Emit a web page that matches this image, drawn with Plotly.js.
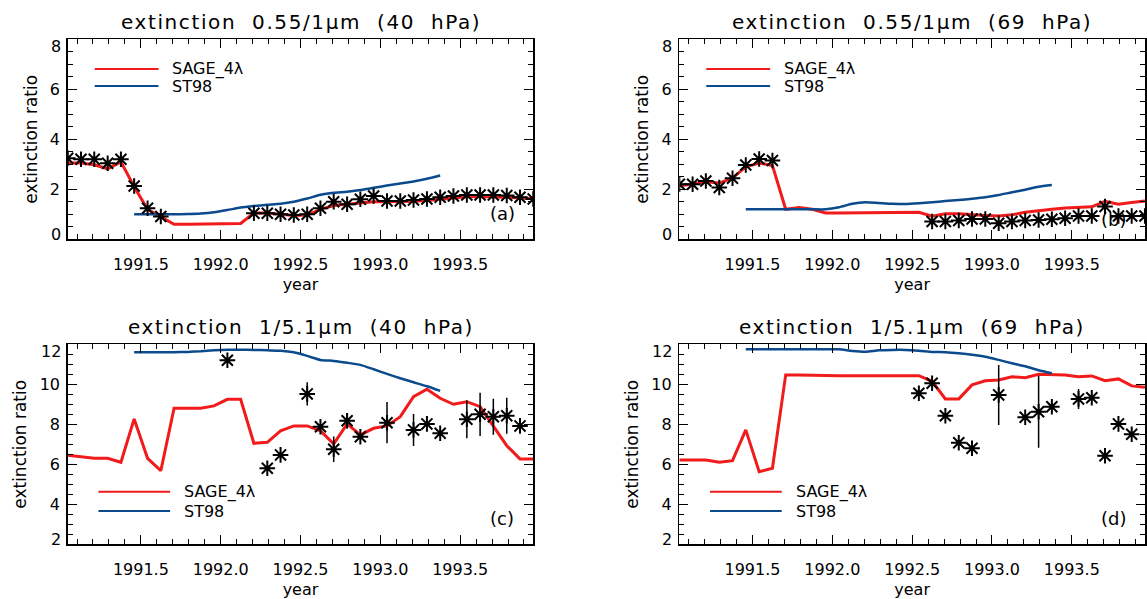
<!DOCTYPE html>
<html>
<head>
<meta charset="utf-8">
<script src="https://cdn.plot.ly/plotly-3.0.1.min.js"></script>
<style>
html,body{margin:0;padding:0;background:#fff;}
#chart{width:1147px;height:599px;}
</style>
</head>
<body>
<div id="chart"></div>
<script>
// ---- data (monthly, mid-month decimal years) ----
var years = [1991.042,1991.125,1991.208,1991.292,1991.375,1991.458,1991.542,1991.625,1991.708,1991.792,1991.875,1991.958,
             1992.042,1992.125,1992.208,1992.292,1992.375,1992.458,1992.542,1992.625,1992.708,1992.792,1992.875,1992.958,
             1993.042,1993.125,1993.208,1993.292,1993.375,1993.458,1993.542,1993.625,1993.708,1993.792,1993.875,1993.958];

// (a) 0.55/1um at 40 hPa
var sageA = [3.05,3.05,2.98,2.82,3.1,2.1,1.2,0.9,0.6,0.6,0.6,0.6,0.62,0.63,1.05,1.05,1.0,0.95,0.97,1.2,1.35,1.4,1.45,1.5,1.5,1.5,1.52,1.55,1.6,1.65,1.7,1.7,1.7,1.68,1.65,1.62];
var st98A  = [null,null,null,null,null,1.0,1.0,1.0,1.0,1.01,1.03,1.08,1.17,1.27,1.33,1.38,1.42,1.5,1.63,1.78,1.86,1.9,1.97,2.06,2.15,2.23,2.31,2.42,2.55,null,null,null,null,null,null,null];
var obsA   = [3.24,3.2,3.2,3.04,3.2,2.13,1.24,0.91,null,null,null,null,null,null,1.04,1.04,1.0,0.97,1.0,1.24,1.5,1.4,1.6,1.73,1.53,1.53,1.57,1.61,1.68,1.73,1.77,1.77,1.77,1.75,1.68,1.61];

// (b) 0.55/1um at 69 hPa
var sageB = [2.15,2.2,2.3,2.25,2.45,2.9,3.05,2.95,1.2,1.27,1.2,1.05,1.05,1.05,1.07,1.07,1.07,1.08,1.08,0.92,1.02,1.02,0.97,0.95,0.93,0.98,1.08,1.15,1.2,1.25,1.28,1.3,1.52,1.4,1.47,1.53];
var st98B  = [null,null,null,null,null,1.2,1.2,1.2,1.2,1.2,1.2,1.2,1.28,1.42,1.48,1.45,1.42,1.41,1.44,1.48,1.53,1.57,1.62,1.68,1.77,1.88,1.98,2.1,2.17,null,null,null,null,null,null,null];
var obsB   = [2.2,2.2,2.33,2.07,2.44,2.97,3.21,3.15,null,null,null,null,null,null,null,null,null,null,null,0.71,0.71,0.75,0.81,0.81,0.64,0.71,0.75,0.77,0.8,0.84,0.93,0.93,1.31,0.93,0.93,0.93];

// (c) 1/5.1um at 40 hPa
var sageC = [6.45,6.38,6.3,6.3,6.1,8.27,6.3,5.68,8.8,8.8,8.8,8.92,9.25,9.25,7.05,7.1,7.67,7.92,7.92,7.67,7.02,8.02,7.47,7.8,7.92,8.38,9.38,9.75,9.3,9.0,9.13,8.88,7.88,6.93,6.27,6.27];
var st98C  = [null,null,null,null,null,11.6,11.6,11.6,11.6,11.62,11.65,11.7,11.73,11.73,11.72,11.7,11.68,11.6,11.42,11.22,11.17,11.08,10.97,10.75,10.52,10.3,10.1,9.9,9.67,null,null,null,null,null,null,null];
var obsC   = [null,null,null,null,null,null,null,null,null,null,null,null,11.2,null,null,5.8,6.47,null,9.52,7.88,6.75,8.18,7.38,null,8.08,null,7.72,8.02,7.55,null,8.25,8.5,8.38,8.43,7.92,null];
var errC   = [0,0,0,0,0,0,0,0,0,0,0,0,0,0,0,0,0,0,0.58,0,0.64,0.38,0,0,1.03,0,0.8,0.35,0,0,0.95,1.08,0.9,0.9,0,0];

// (d) 1/5.1um at 69 hPa
var sageD = [6.22,6.22,6.22,6.1,6.18,7.72,5.63,5.8,10.47,10.47,10.45,10.45,10.43,10.43,10.43,10.43,10.43,10.43,10.43,10.15,9.27,9.27,9.97,10.18,10.22,10.38,10.33,10.5,10.5,10.47,10.38,10.42,10.18,10.27,9.92,9.85];
var st98D  = [null,null,null,null,null,11.75,11.75,11.75,11.75,11.75,11.75,11.75,11.75,11.67,11.63,11.7,11.72,11.72,11.68,11.62,11.6,11.55,11.48,11.38,11.22,11.05,10.9,10.7,10.55,null,null,null,null,null,null,null];
var obsD   = [null,null,null,null,null,null,null,null,null,null,null,null,null,null,null,null,null,null,9.55,10.05,8.43,7.08,6.8,null,9.47,null,8.35,8.63,8.88,null,9.27,9.33,6.43,8.02,7.5,null];
var errD   = [0,0,0,0,0,0,0,0,0,0,0,0,0,0,0,0,0,0,0,0,0,0,0,0,1.5,0,0,1.8,0,0,0.5,0,0,0,0,0];

var titles = ['extinction  0.55/1\u03bcm  (40  hPa)','extinction  0.55/1\u03bcm  (69  hPa)',
              'extinction  1/5.1\u03bcm  (40  hPa)','extinction  1/5.1\u03bcm  (69  hPa)'];
var panelLabels = ['(a)','(b)','(c)','(d)'];
var seriesNames = ['SAGE_4\u03bb','ST98'];

var RED = '#f21b1b', BLUE = '#0b4a8c';
var FONT = 'DejaVu Sans, sans-serif';

var panels = [
  {sage:sageA, st:st98A, obs:obsA, err:null},
  {sage:sageB, st:st98B, obs:obsB, err:null},
  {sage:sageC, st:st98C, obs:obsC, err:errC},
  {sage:sageD, st:st98D, obs:obsD, err:errD}
];

var traces = [];
panels.forEach(function(p, k){
  var xa = 'x' + (k===0?'':(k+1)), ya = 'y' + (k===0?'':(k+1));
  traces.push({x:years, y:p.sage, xaxis:xa, yaxis:ya, mode:'lines', name:seriesNames[0],
               line:{color:RED, width:3}, connectgaps:false, showlegend:false, hoverinfo:'skip'});
  traces.push({x:years, y:p.st, xaxis:xa, yaxis:ya, mode:'lines', name:seriesNames[1],
               line:{color:BLUE, width:2.5, shape:'spline', smoothing:0.6}, showlegend:false, hoverinfo:'skip'});
  var t = {x:years, y:p.obs, xaxis:xa, yaxis:ya, mode:'markers', name:'observed',
           marker:{symbol:'asterisk-open', size:13, color:'black', line:{color:'black', width:2}},
           showlegend:false, hoverinfo:'skip'};
  if (p.err) t.error_y = {type:'data', array:p.err, visible:true, width:0, thickness:1.5, color:'black'};
  traces.push(t);
});

var W = 1147, H = 599;
var boxes = [
  {l:67.7, r:533.3, t:39.3, b:239.3},
  {l:679.3, r:1145, t:39.3, b:239.3},
  {l:67.7, r:533.3, t:344.3, b:544.3},
  {l:679.3, r:1145, t:344.3, b:544.3}
];

var layout = {
  width:W, height:H, margin:{l:0,r:0,t:0,b:0},
  paper_bgcolor:'white', plot_bgcolor:'white',
  font:{family:FONT, size:16, color:'black'},
  showlegend:false, shapes:[], annotations:[]
};

var yRanges = [[0,8],[0,8],[2,12],[2,12]];
boxes.forEach(function(bx, k){
  var sfx = (k===0?'':(k+1));
  layout['xaxis'+sfx] = {
    domain:[bx.l/W, bx.r/W], anchor:'y'+sfx,
    range:[1991.0417, 1993.9583], tick0:1991.0, dtick:0.5, tickformat:'.1f',
    ticks:'inside', ticklen:9, tickwidth:1, tickcolor:'black',
    minor:{dtick:0.1, tick0:1991.0, ticks:'inside', ticklen:5, tickwidth:1, tickcolor:'black'},
    showline:true, linecolor:'black', linewidth:1.5, mirror:'ticks',
    showgrid:false, zeroline:false, ticklabelstandoff:10,
    tickfont:{size:16, family:FONT},
    title:{text:'year', font:{size:16, family:FONT}, standoff:6}
  };
  var yr = yRanges[k];
  var tv = [], tt = [];
  for (var v = yr[0]; v <= yr[1]; v += 2) { tv.push(v); tt.push((v===yr[0]||v===yr[1]) ? '' : String(v)); }
  layout['yaxis'+sfx] = {
    domain:[1-bx.b/H, 1-bx.t/H], anchor:'x'+sfx,
    range:yr, tickmode:'array', tickvals:tv, ticktext:tt,
    ticks:'inside', ticklen:9, tickwidth:1, tickcolor:'black',
    minor:{dtick:0.5, tick0:0, ticks:'inside', ticklen:5, tickwidth:1, tickcolor:'black'},
    showline:true, linecolor:'black', linewidth:1.5, mirror:'ticks',
    showgrid:false, zeroline:false, ticklabelstandoff:3,
    tickfont:{size:16, family:FONT},
    title:{text:'extinction ratio', font:{size:17, family:FONT}, standoff:8}
  };
  var xd = 'x'+sfx+' domain', yd = 'y'+sfx+' domain';
  // shifted end labels of y axis
  layout.annotations.push({xref:xd, yref:'y'+sfx, x:0, y:yr[0], text:String(yr[0]), showarrow:false,
    xanchor:'right', yanchor:'middle', xshift:-5, yshift:5, font:{size:16}});
  layout.annotations.push({xref:xd, yref:'y'+sfx, x:0, y:yr[1], text:String(yr[1]), showarrow:false,
    xanchor:'right', yanchor:'middle', xshift:-5, yshift:-7, font:{size:16}});
  // panel title
  layout.annotations.push({xref:xd, yref:yd, x:0.5, y:1.0865, text:'<span style="letter-spacing:1.6px">'+titles[k]+'</span>',
    showarrow:false, xanchor:'center', yanchor:'middle', font:{size:20}});
  // panel label
  var top = k < 2;
  layout.annotations.push({xref:xd, yref:yd, x:0.933, y:(k===1?0.097:0.13), text:panelLabels[k],
    showarrow:false, xanchor:'center', yanchor:'middle', font:{size:18}});
  // legend
  var lx0 = top ? 0.058 : 0.066, lx1 = top ? 0.195 : 0.22, tx = top ? 0.22 : 0.246;
  var ly1 = top ? 0.8515 : 0.263, ly2 = top ? 0.7665 : 0.1665;
  layout.shapes.push({type:'line', xref:xd, yref:yd, x0:lx0, x1:lx1, y0:ly1, y1:ly1, line:{color:RED, width:2}});
  layout.shapes.push({type:'line', xref:xd, yref:yd, x0:lx0, x1:lx1, y0:ly2, y1:ly2, line:{color:BLUE, width:2}});
  layout.annotations.push({xref:xd, yref:yd, x:tx, y:ly1, text:seriesNames[0], showarrow:false,
    xanchor:'left', yanchor:'middle', font:{size:16}});
  layout.annotations.push({xref:xd, yref:yd, x:tx, y:ly2, text:seriesNames[1], showarrow:false,
    xanchor:'left', yanchor:'middle', font:{size:16}});
});

Plotly.newPlot('chart', traces, layout, {displayModeBar:false, staticPlot:true});
</script>
</body>
</html>
